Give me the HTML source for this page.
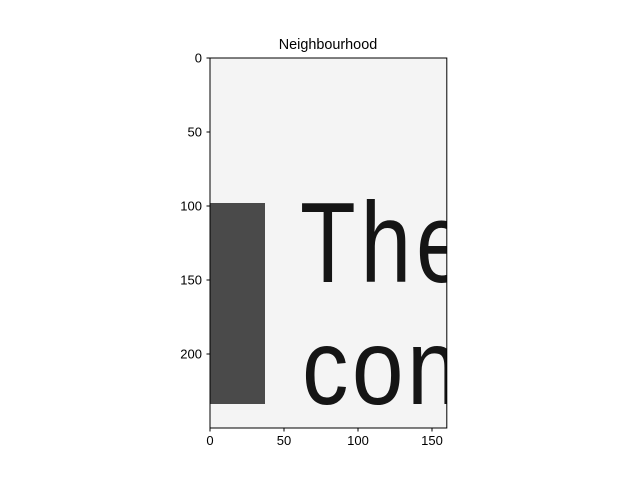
<!DOCTYPE html>
<html><head><meta charset="utf-8"><style>
body{margin:0;background:#fff;}
svg text{font-family:"Liberation Sans",sans-serif;}
</style></head><body>
<svg width="640" height="480" xmlns="http://www.w3.org/2000/svg">
<script>
const xTicks=[0,50,100,150];
const yTicks=[0,50,100,150,200];
const imgWidth=160;
const imgHeight=250;
</script>
<rect width="640" height="480" fill="#fff"/>
<text x="328" y="49" font-size="14.4" text-anchor="middle" fill="#000">Neighbourhood</text>
<defs><clipPath id="ax"><rect x="210" y="58" width="236.8" height="370"/></clipPath></defs>
<g clip-path="url(#ax)">
<rect x="210" y="58" width="237" height="370" fill="#f4f4f4"/>
<rect x="210" y="203" width="55" height="201" fill="#4a4a4a"/>
<g transform="translate(300,282) scale(0.8,1)"><text x="0" y="0" font-size="114" letter-spacing="6" fill="#151515">The</text></g>
<g transform="translate(302,404) scale(0.86,1)"><text x="0" y="0" font-size="108" letter-spacing="4" fill="#151515">con</text></g>
</g>
<rect x="210" y="58" width="236.8" height="370" fill="none" stroke="#000" stroke-width="1"/>
<g id="ticks" font-size="13" fill="#000"></g>
<script>
const g=document.getElementById('ticks');
const sx=v=>210+v*(236.8/imgWidth);
const sy=v=>58+v*(370/imgHeight);
const NS='http://www.w3.org/2000/svg';
xTicks.forEach(v=>{
 const l=document.createElementNS(NS,'line');
 l.setAttribute('x1',sx(v));l.setAttribute('x2',sx(v));l.setAttribute('y1',428);l.setAttribute('y2',431.5);l.setAttribute('stroke','#000');
 
 
 g.appendChild(l);
 const t=document.createElementNS(NS,'text');
 t.setAttribute('x',sx(v));t.setAttribute('y',445);t.setAttribute('text-anchor','middle');t.textContent=v;
 
 
 g.appendChild(t);
});
yTicks.forEach(v=>{
 const l=document.createElementNS(NS,'line');
 l.setAttribute('x1',206.5);l.setAttribute('x2',210);l.setAttribute('y1',sy(v));l.setAttribute('y2',sy(v));l.setAttribute('stroke','#000');
 
 
 g.appendChild(l);
 const t=document.createElementNS(NS,'text');
 t.setAttribute('x',202);t.setAttribute('y',sy(v)+4.5);t.setAttribute('text-anchor','end');t.textContent=v;
 
 
 g.appendChild(t);
});
</script>
</svg>
</body></html>
